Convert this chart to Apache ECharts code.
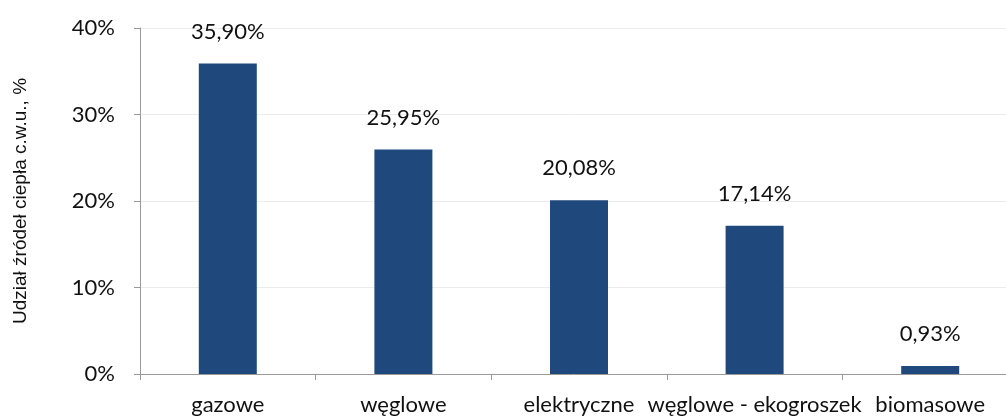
<!DOCTYPE html>
<html>
<head>
<meta charset="utf-8">
<script src="https://cdn.jsdelivr.net/npm/echarts@6/dist/echarts.min.js"></script>
<style>
html,body{margin:0;padding:0;background:#fff;}
#chart{width:1006px;height:416px;}
</style>
</head>
<body>
<div id="chart"></div>
<script>
const categories = ['gazowe', 'węglowe', 'elektryczne', 'węglowe - ekogroszek', 'biomasowe'];
const values = [35.90, 25.95, 20.08, 17.14, 0.93];
const yAxisName = 'Udział źródeł ciepła c.w.u., %';

const FONT = 'Lato';
const chart = echarts.init(document.getElementById('chart'), null, {renderer: 'canvas'});
chart.setOption({
  animation: false,
  backgroundColor: '#ffffff',
  grid: {left: 140, top: 28, width: 878, height: 346, containLabel: false, outerBoundsMode: 'none'},
  xAxis: {
    type: 'category',
    data: categories,
    axisLine: {lineStyle: {color: '#999999', width: 1}},
    axisTick: {show: true, length: 6, lineStyle: {color: '#999999'}},
    axisLabel: {color: '#111111', fontSize: 22, fontFamily: FONT, margin: 20, interval: 0},
    splitLine: {show: false}
  },
  yAxis: {
    type: 'value',
    min: 0, max: 40, interval: 10,
    name: yAxisName,
    nameLocation: 'middle',
    nameGap: 110,
    nameTextStyle: {color: '#111111', fontSize: 19, fontFamily: 'Liberation Sans'},
    axisLine: {show: true, lineStyle: {color: '#999999', width: 1}},
    axisTick: {show: true, length: 6, lineStyle: {color: '#999999'}},
    axisLabel: {color: '#111111', fontSize: 22, fontFamily: FONT, margin: 25, formatter: '{value}%'},
    splitLine: {show: true, lineStyle: {color: '#ececec', width: 1}}
  },
  series: [{
    type: 'bar',
    data: values,
    barWidth: 58,
    itemStyle: {color: '#1f497d'},
    label: {
      show: true,
      position: 'top',
      distance: 21,
      color: '#111111',
      fontSize: 22,
      fontFamily: FONT,
      formatter: p => p.value.toFixed(2).replace('.', ',') + '%'
    }
  }]
});
</script>
</body>
</html>
